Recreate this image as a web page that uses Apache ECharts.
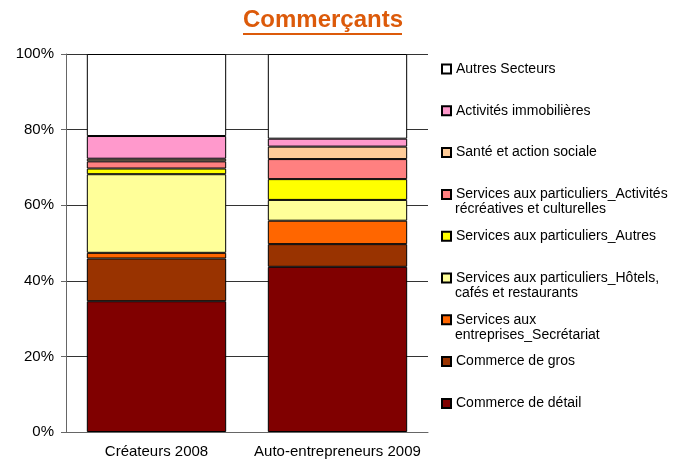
<!DOCTYPE html>
<html>
<head>
<meta charset="utf-8">
<script src="https://cdn.jsdelivr.net/npm/echarts@6/dist/echarts.min.js"></script>
<style>
  html, body { margin: 0; padding: 0; background: #fff; }
  #chart { width: 689px; height: 461px; }
</style>
</head>
<body>
<div id="chart"></div>
<script>
// catégories (axe x)
var categories = ['Créateurs 2008', 'Auto-entrepreneurs 2009'];

// parts en %, de bas en haut de la pile
var commerceDetail = [34.6, 43.7];
var commerceGros = [11.3, 6.0];
var secretariat = [1.5, 6.2];
var hotelsCafes = [20.8, 5.5];
var particuliersAutres = [1.5, 5.5];
var recreatives = [1.9, 5.3];
var santeSociale = [0.7, 3.3];
var immobilieres = [6.0, 2.1];
var autresSecteurs = [21.7, 22.4];

// libellés de la légende (\n = retour à la ligne comme dans l'original)
var names = [
    'Commerce de détail',
    'Commerce de gros',
    'Services aux\nentreprises_Secrétariat',
    'Services aux particuliers_Hôtels,\ncafés et restaurants',
    'Services aux particuliers_Autres',
    'Services aux particuliers_Activités\nrécréatives et culturelles',
    'Santé et action sociale',
    'Activités immobilières',
    'Autres Secteurs'
];
var values = [commerceDetail, commerceGros, secretariat, hotelsCafes, particuliersAutres,
    recreatives, santeSociale, immobilieres, autresSecteurs];
var colors = ['#800000', '#993300', '#FF6600', '#FFFF99', '#FFFF00',
    '#FF8080', '#FFCC99', '#FF99CC', '#FFFFFF'];

var font = "'Liberation Sans', Arial, sans-serif";
var legendTop = 62;
var legendStep = 41.8;

var chart = echarts.init(document.getElementById('chart'));

var series = names.map(function (name, i) {
    return {
        name: name,
        type: 'bar',
        stack: 'total',
        barCategoryGap: '23%',
        data: values[i],
        itemStyle: {color: colors[i], borderColor: '#000', borderWidth: 1},
        emphasis: {disabled: true}
    };
});

// légende de haut en bas : ordre inverse de la pile
var legendOrder = names.slice().reverse();

// deuxième ligne des libellés longs
var secondLines = [];
legendOrder.forEach(function (name, i) {
    var parts = name.split('\n');
    if (parts.length > 1) {
        secondLines.push({
            type: 'text',
            left: 455,
            top: legendTop + i * legendStep + 15,
            style: {text: parts[1], font: '14px ' + font, fill: '#000'}
        });
    }
});

chart.setOption({
    animation: false,
    title: {
        text: 'Commerçants',
        left: 243,
        top: 8,
        padding: 0,
        textStyle: {fontFamily: font, fontSize: 24, fontWeight: 'bold', color: '#DC5A0A'}
    },
    graphic: [{
        type: 'line',
        shape: {x1: 243, y1: 34, x2: 402, y2: 34},
        style: {stroke: '#DC5A0A', lineWidth: 2}
    }].concat(secondLines),
    legend: {
        orient: 'vertical',
        left: 441,
        top: legendTop,
        padding: 0,
        itemWidth: 9,
        itemHeight: 9,
        itemGap: legendStep - 14,
        icon: 'rect',
        selectedMode: false,
        data: legendOrder,
        formatter: function (name) {
            return name.split('\n')[0];
        },
        textStyle: {fontFamily: font, fontSize: 14, lineHeight: 14, color: '#000'}
    },
    grid: {left: 66, right: 261, top: 54, bottom: 29},
    xAxis: {
        type: 'category',
        data: categories,
        axisLine: {lineStyle: {color: '#666'}},
        axisTick: {length: 5, lineStyle: {color: '#666'}},
        axisLabel: {interval: 0, fontFamily: font, fontSize: 15, color: '#000', margin: 12}
    },
    yAxis: {
        type: 'value',
        min: 0,
        max: 100,
        interval: 20,
        axisLine: {show: true, lineStyle: {color: '#666'}},
        axisTick: {show: true, length: 5, lineStyle: {color: '#666'}},
        axisLabel: {fontFamily: font, fontSize: 15, color: '#000', margin: 12, formatter: '{value}%'},
        splitLine: {lineStyle: {color: '#333'}}
    },
    series: series
});
</script>
</body>
</html>
